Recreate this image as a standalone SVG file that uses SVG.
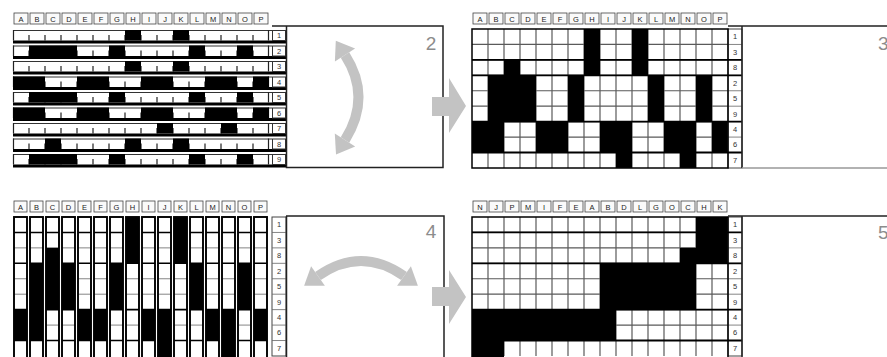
<svg xmlns="http://www.w3.org/2000/svg" xmlns:xlink="http://www.w3.org/1999/xlink" width="887" height="357" viewBox="0 0 887 357">
<style>
.hc{fill:#fafafa;stroke:#444;stroke-width:0.8}
.ht{font-family:"Liberation Sans",Arial,sans-serif;font-size:7.5px;fill:#222;text-anchor:middle}
.lt{font-family:"Liberation Sans",Arial,sans-serif;font-size:7.5px;fill:#333;text-anchor:middle}
.num{font-family:"Liberation Sans",Arial,sans-serif;font-size:19px;fill:#8c8c8c}
.ga{fill:#c3c3c3}
.arc{fill:none;stroke:#c3c3c3;stroke-width:10}
.k{fill:#000}
.ob{fill:none;stroke:#000;stroke-width:1.5}
.box{fill:none;stroke:#222;stroke-width:1.5}
</style>
<defs>
<g id="s1">
<rect x="13" y="0" width="259" height="10.5" fill="#fff"/>
<path d="M13 0.5H272" stroke="#333" stroke-width="1"/>
<path d="M13.5 0V10.5M29 5V10.5M45 5V10.5M61 5V10.5M77 5V10.5M93 5V10.5M109 5V10.5M125 5V10.5M141 5V10.5M157 5V10.5M173 5V10.5M189 5V10.5M205 5V10.5M221 5V10.5M237 5V10.5M253 5V10.5M268.5 0V10.5" stroke="#222" stroke-width="1.2"/>
<rect x="13" y="10.5" width="273" height="3" fill="#000"/>
<rect x="272.5" y="0.5" width="13" height="10" fill="#fff" stroke="#333" stroke-width="1"/>
</g>
<path id="gl" d="M16 0V139M32 0V139M48 0V139M64 0V139M80 0V139M96 0V139M112 0V139M128 0V139M144 0V139M160 0V139M176 0V139M192 0V139M208 0V139M224 0V139M240 0V139M0 15.44H256M0 30.88H256M0 46.32H256M0 61.76H256M0 77.2H256M0 92.64H256M0 108.08H256M0 123.52H256" stroke="#5a5a5a" stroke-width="1.2" fill="none"/>
<g id="lc">
<rect x="0" y="0" width="14" height="139" fill="#fff" stroke="#444" stroke-width="1"/>
<path d="M0 15.44H14M0 30.88H14M0 46.32H14M0 61.76H14M0 77.2H14M0 92.64H14M0 108.08H14M0 123.52H14" stroke="#666" stroke-width="0.8"/>
</g>
<path id="t3" d="M0 30.88H270M0 46.32H270M0 92.64H270M0 123.52H270" stroke="#000" stroke-width="1.8"/>
<path id="t5" d="M0 15.44H270M0 46.32H270M0 92.64H270M0 123.52H270" stroke="#000" stroke-width="1.8"/>
<g id="s4a">
<rect x="0" y="0" width="13" height="142" fill="#fff"/>
<path d="M0 30.88H13M0 61.76H13M0 77.2H13M0 108.08H13" stroke="#777" stroke-width="0.9"/>
</g>
<g id="s4b">
<path d="M0 15.44H13M0 46.32H13M0 92.64H13M0 123.52H13" stroke="#000" stroke-width="1.6"/>
<rect x="0" y="0" width="13" height="145" fill="none" stroke="#000" stroke-width="1.9"/>
</g>
</defs>
<rect width="887" height="357" fill="#fff"/>

<g id="panel1">
<rect class="hc" x="14" y="13" width="14" height="11"/><text class="ht" x="21" y="21.5">A</text>
<rect class="hc" x="30" y="13" width="14" height="11"/><text class="ht" x="37" y="21.5">B</text>
<rect class="hc" x="46" y="13" width="14" height="11"/><text class="ht" x="53" y="21.5">C</text>
<rect class="hc" x="62" y="13" width="14" height="11"/><text class="ht" x="69" y="21.5">D</text>
<rect class="hc" x="78" y="13" width="14" height="11"/><text class="ht" x="85" y="21.5">E</text>
<rect class="hc" x="94" y="13" width="14" height="11"/><text class="ht" x="101" y="21.5">F</text>
<rect class="hc" x="110" y="13" width="14" height="11"/><text class="ht" x="117" y="21.5">G</text>
<rect class="hc" x="126" y="13" width="14" height="11"/><text class="ht" x="133" y="21.5">H</text>
<rect class="hc" x="142" y="13" width="14" height="11"/><text class="ht" x="149" y="21.5">I</text>
<rect class="hc" x="158" y="13" width="14" height="11"/><text class="ht" x="165" y="21.5">J</text>
<rect class="hc" x="174" y="13" width="14" height="11"/><text class="ht" x="181" y="21.5">K</text>
<rect class="hc" x="190" y="13" width="14" height="11"/><text class="ht" x="197" y="21.5">L</text>
<rect class="hc" x="206" y="13" width="14" height="11"/><text class="ht" x="213" y="21.5">M</text>
<rect class="hc" x="222" y="13" width="14" height="11"/><text class="ht" x="229" y="21.5">N</text>
<rect class="hc" x="238" y="13" width="14" height="11"/><text class="ht" x="245" y="21.5">O</text>
<rect class="hc" x="254" y="13" width="14" height="11"/><text class="ht" x="261" y="21.5">P</text>
<g transform="translate(0,30)"><use href="#s1"/><rect class="k" x="125" y="0" width="16" height="10.5"/><rect class="k" x="173" y="0" width="16" height="10.5"/><text class="lt" x="279" y="8.3">1</text></g>
<g transform="translate(0,45.5)"><use href="#s1"/><rect class="k" x="29" y="0" width="48" height="10.5"/><rect class="k" x="109" y="0" width="16" height="10.5"/><rect class="k" x="189" y="0" width="16" height="10.5"/><rect class="k" x="237" y="0" width="16" height="10.5"/><text class="lt" x="279" y="8.3">2</text></g>
<g transform="translate(0,61)"><use href="#s1"/><rect class="k" x="125" y="0" width="16" height="10.5"/><rect class="k" x="173" y="0" width="16" height="10.5"/><text class="lt" x="279" y="8.3">3</text></g>
<g transform="translate(0,76.5)"><use href="#s1"/><rect class="k" x="13" y="0" width="32" height="10.5"/><rect class="k" x="77" y="0" width="32" height="10.5"/><rect class="k" x="141" y="0" width="32" height="10.5"/><rect class="k" x="205" y="0" width="32" height="10.5"/><rect class="k" x="253" y="0" width="16" height="10.5"/><text class="lt" x="279" y="8.3">4</text></g>
<g transform="translate(0,92)"><use href="#s1"/><rect class="k" x="29" y="0" width="48" height="10.5"/><rect class="k" x="109" y="0" width="16" height="10.5"/><rect class="k" x="189" y="0" width="16" height="10.5"/><rect class="k" x="237" y="0" width="16" height="10.5"/><text class="lt" x="279" y="8.3">5</text></g>
<g transform="translate(0,107.5)"><use href="#s1"/><rect class="k" x="13" y="0" width="32" height="10.5"/><rect class="k" x="77" y="0" width="32" height="10.5"/><rect class="k" x="141" y="0" width="32" height="10.5"/><rect class="k" x="205" y="0" width="32" height="10.5"/><rect class="k" x="253" y="0" width="16" height="10.5"/><text class="lt" x="279" y="8.3">6</text></g>
<g transform="translate(0,123)"><use href="#s1"/><rect class="k" x="157" y="0" width="16" height="10.5"/><rect class="k" x="221" y="0" width="16" height="10.5"/><text class="lt" x="279" y="8.3">7</text></g>
<g transform="translate(0,138.5)"><use href="#s1"/><rect class="k" x="45" y="0" width="16" height="10.5"/><rect class="k" x="125" y="0" width="16" height="10.5"/><rect class="k" x="173" y="0" width="16" height="10.5"/><text class="lt" x="279" y="8.3">8</text></g>
<g transform="translate(0,154)"><use href="#s1"/><rect class="k" x="29" y="0" width="48" height="10.5"/><rect class="k" x="109" y="0" width="16" height="10.5"/><rect class="k" x="189" y="0" width="16" height="10.5"/><rect class="k" x="237" y="0" width="16" height="10.5"/><text class="lt" x="279" y="8.3">9</text></g>
</g>

<g id="panel2">
<path class="box" d="M272 26H443V167.5H286.5V26"/>
<text class="num" x="431" y="50" text-anchor="middle">2</text>
<path class="arc" d="M345 55Q372 97 345 140"/>
<polygon class="ga" points="335.8,40.7 355.1,48.5 334.9,61.5"/>
<polygon class="ga" points="336,154.4 355.2,146.4 334.8,133.6"/>
</g>

<g id="panel3">
<rect class="hc" x="473" y="13" width="14" height="11"/><text class="ht" x="480" y="21.5">A</text>
<rect class="hc" x="489" y="13" width="14" height="11"/><text class="ht" x="496" y="21.5">B</text>
<rect class="hc" x="505" y="13" width="14" height="11"/><text class="ht" x="512" y="21.5">C</text>
<rect class="hc" x="521" y="13" width="14" height="11"/><text class="ht" x="528" y="21.5">D</text>
<rect class="hc" x="537" y="13" width="14" height="11"/><text class="ht" x="544" y="21.5">E</text>
<rect class="hc" x="553" y="13" width="14" height="11"/><text class="ht" x="560" y="21.5">F</text>
<rect class="hc" x="569" y="13" width="14" height="11"/><text class="ht" x="576" y="21.5">G</text>
<rect class="hc" x="585" y="13" width="14" height="11"/><text class="ht" x="592" y="21.5">H</text>
<rect class="hc" x="601" y="13" width="14" height="11"/><text class="ht" x="608" y="21.5">I</text>
<rect class="hc" x="617" y="13" width="14" height="11"/><text class="ht" x="624" y="21.5">J</text>
<rect class="hc" x="633" y="13" width="14" height="11"/><text class="ht" x="640" y="21.5">K</text>
<rect class="hc" x="649" y="13" width="14" height="11"/><text class="ht" x="656" y="21.5">L</text>
<rect class="hc" x="665" y="13" width="14" height="11"/><text class="ht" x="672" y="21.5">M</text>
<rect class="hc" x="681" y="13" width="14" height="11"/><text class="ht" x="688" y="21.5">N</text>
<rect class="hc" x="697" y="13" width="14" height="11"/><text class="ht" x="704" y="21.5">O</text>
<rect class="hc" x="713" y="13" width="14" height="11"/><text class="ht" x="720" y="21.5">P</text>
<rect x="472" y="29" width="256" height="139" fill="#fff"/>
<use href="#gl" x="472" y="29"/>
<rect class="k" x="584" y="29" width="16" height="46.32"/>
<rect class="k" x="632" y="29" width="16" height="46.32"/>
<rect class="k" x="504" y="59.88" width="16" height="61.76"/>
<rect class="k" x="488" y="75.32" width="48" height="46.32"/>
<rect class="k" x="568" y="75.32" width="16" height="46.32"/>
<rect class="k" x="648" y="75.32" width="16" height="46.32"/>
<rect class="k" x="696" y="75.32" width="16" height="46.32"/>
<rect class="k" x="472" y="121.64" width="32" height="30.88"/>
<rect class="k" x="536" y="121.64" width="32" height="30.88"/>
<rect class="k" x="600" y="121.64" width="32" height="30.88"/>
<rect class="k" x="664" y="121.64" width="32" height="30.88"/>
<rect class="k" x="712" y="121.64" width="16" height="30.88"/>
<rect class="k" x="616" y="152.52" width="16" height="15.44"/>
<rect class="k" x="680" y="152.52" width="16" height="15.44"/>
<use href="#lc" x="728" y="29"/>
<use href="#t3" x="472" y="29"/>
<rect class="ob" x="472" y="29" width="256" height="139"/>
<text class="lt" x="735" y="39.3">1</text>
<text class="lt" x="735" y="54.8">3</text>
<text class="lt" x="735" y="70.2">8</text>
<text class="lt" x="735" y="85.6">2</text>
<text class="lt" x="735" y="101.1">5</text>
<text class="lt" x="735" y="116.5">9</text>
<text class="lt" x="735" y="132">4</text>
<text class="lt" x="735" y="147.4">6</text>
<text class="lt" x="735" y="162.8">7</text>
<path class="box" d="M728 26H887M742 26V168"/>
<path d="M742 168H887" stroke="#999" stroke-width="1.5"/>
<text class="num" x="878" y="50">3</text>
</g>

<g id="panel4">
<rect class="hc" x="14" y="201" width="13" height="11"/><text class="ht" x="20.5" y="209.5">A</text>
<rect class="hc" x="30" y="201" width="13" height="11"/><text class="ht" x="36.5" y="209.5">B</text>
<rect class="hc" x="46" y="201" width="13" height="11"/><text class="ht" x="52.5" y="209.5">C</text>
<rect class="hc" x="62" y="201" width="13" height="11"/><text class="ht" x="68.5" y="209.5">D</text>
<rect class="hc" x="78" y="201" width="13" height="11"/><text class="ht" x="84.5" y="209.5">E</text>
<rect class="hc" x="94" y="201" width="13" height="11"/><text class="ht" x="100.5" y="209.5">F</text>
<rect class="hc" x="110" y="201" width="13" height="11"/><text class="ht" x="116.5" y="209.5">G</text>
<rect class="hc" x="126" y="201" width="13" height="11"/><text class="ht" x="132.5" y="209.5">H</text>
<rect class="hc" x="142" y="201" width="13" height="11"/><text class="ht" x="148.5" y="209.5">I</text>
<rect class="hc" x="158" y="201" width="13" height="11"/><text class="ht" x="164.5" y="209.5">J</text>
<rect class="hc" x="174" y="201" width="13" height="11"/><text class="ht" x="180.5" y="209.5">K</text>
<rect class="hc" x="190" y="201" width="13" height="11"/><text class="ht" x="196.5" y="209.5">L</text>
<rect class="hc" x="206" y="201" width="13" height="11"/><text class="ht" x="212.5" y="209.5">M</text>
<rect class="hc" x="222" y="201" width="13" height="11"/><text class="ht" x="228.5" y="209.5">N</text>
<rect class="hc" x="238" y="201" width="13" height="11"/><text class="ht" x="244.5" y="209.5">O</text>
<rect class="hc" x="254" y="201" width="13" height="11"/><text class="ht" x="260.5" y="209.5">P</text>
<use href="#s4a" x="14" y="217"/><rect class="k" x="14" y="309.64" width="13" height="30.88"/><use href="#s4b" x="14" y="217"/>
<use href="#s4a" x="30" y="217"/><rect class="k" x="30" y="263.32" width="13" height="77.2"/><use href="#s4b" x="30" y="217"/>
<use href="#s4a" x="46" y="217"/><rect class="k" x="46" y="247.88" width="13" height="61.76"/><use href="#s4b" x="46" y="217"/>
<use href="#s4a" x="62" y="217"/><rect class="k" x="62" y="263.32" width="13" height="46.32"/><use href="#s4b" x="62" y="217"/>
<use href="#s4a" x="78" y="217"/><rect class="k" x="78" y="309.64" width="13" height="30.88"/><use href="#s4b" x="78" y="217"/>
<use href="#s4a" x="94" y="217"/><rect class="k" x="94" y="309.64" width="13" height="30.88"/><use href="#s4b" x="94" y="217"/>
<use href="#s4a" x="110" y="217"/><rect class="k" x="110" y="263.32" width="13" height="46.32"/><use href="#s4b" x="110" y="217"/>
<use href="#s4a" x="126" y="217"/><rect class="k" x="126" y="217" width="13" height="46.32"/><use href="#s4b" x="126" y="217"/>
<use href="#s4a" x="142" y="217"/><rect class="k" x="142" y="309.64" width="13" height="30.88"/><use href="#s4b" x="142" y="217"/>
<use href="#s4a" x="158" y="217"/><rect class="k" x="158" y="309.64" width="13" height="48"/><use href="#s4b" x="158" y="217"/>
<use href="#s4a" x="174" y="217"/><rect class="k" x="174" y="217" width="13" height="46.32"/><use href="#s4b" x="174" y="217"/>
<use href="#s4a" x="190" y="217"/><rect class="k" x="190" y="263.32" width="13" height="46.32"/><use href="#s4b" x="190" y="217"/>
<use href="#s4a" x="206" y="217"/><rect class="k" x="206" y="309.64" width="13" height="30.88"/><use href="#s4b" x="206" y="217"/>
<use href="#s4a" x="222" y="217"/><rect class="k" x="222" y="309.64" width="13" height="48"/><use href="#s4b" x="222" y="217"/>
<use href="#s4a" x="238" y="217"/><rect class="k" x="238" y="263.32" width="13" height="46.32"/><use href="#s4b" x="238" y="217"/>
<use href="#s4a" x="254" y="217"/><rect class="k" x="254" y="309.64" width="13" height="30.88"/><use href="#s4b" x="254" y="217"/>
<use href="#lc" x="272" y="217"/>
<text class="lt" x="279" y="227.3">1</text>
<text class="lt" x="279" y="242.8">3</text>
<text class="lt" x="279" y="258.2">8</text>
<text class="lt" x="279" y="273.6">2</text>
<text class="lt" x="279" y="289.1">5</text>
<text class="lt" x="279" y="304.5">9</text>
<text class="lt" x="279" y="320">4</text>
<text class="lt" x="279" y="335.4">6</text>
<text class="lt" x="279" y="350.8">7</text>
<path class="box" d="M286 216H444V360M286.5 216V360"/>
<text class="num" x="431" y="238" text-anchor="middle">4</text>
<path class="arc" d="M318 276Q361 246 404 276"/>
<polygon class="ga" points="304.1,285.7 324.9,285.8 311.1,266.2"/>
<polygon class="ga" points="417.9,285.7 397.1,285.8 410.9,266.2"/>
</g>

<g id="panel5">
<rect class="hc" x="473" y="201" width="14" height="11"/><text class="ht" x="480" y="209.5">N</text>
<rect class="hc" x="489" y="201" width="14" height="11"/><text class="ht" x="496" y="209.5">J</text>
<rect class="hc" x="505" y="201" width="14" height="11"/><text class="ht" x="512" y="209.5">P</text>
<rect class="hc" x="521" y="201" width="14" height="11"/><text class="ht" x="528" y="209.5">M</text>
<rect class="hc" x="537" y="201" width="14" height="11"/><text class="ht" x="544" y="209.5">I</text>
<rect class="hc" x="553" y="201" width="14" height="11"/><text class="ht" x="560" y="209.5">F</text>
<rect class="hc" x="569" y="201" width="14" height="11"/><text class="ht" x="576" y="209.5">E</text>
<rect class="hc" x="585" y="201" width="14" height="11"/><text class="ht" x="592" y="209.5">A</text>
<rect class="hc" x="601" y="201" width="14" height="11"/><text class="ht" x="608" y="209.5">B</text>
<rect class="hc" x="617" y="201" width="14" height="11"/><text class="ht" x="624" y="209.5">D</text>
<rect class="hc" x="633" y="201" width="14" height="11"/><text class="ht" x="640" y="209.5">L</text>
<rect class="hc" x="649" y="201" width="14" height="11"/><text class="ht" x="656" y="209.5">G</text>
<rect class="hc" x="665" y="201" width="14" height="11"/><text class="ht" x="672" y="209.5">O</text>
<rect class="hc" x="681" y="201" width="14" height="11"/><text class="ht" x="688" y="209.5">C</text>
<rect class="hc" x="697" y="201" width="14" height="11"/><text class="ht" x="704" y="209.5">H</text>
<rect class="hc" x="713" y="201" width="14" height="11"/><text class="ht" x="720" y="209.5">K</text>
<rect x="472" y="217" width="256" height="141" fill="#fff"/>
<use href="#gl" x="472" y="217"/>
<rect class="k" x="696" y="217" width="32" height="46.32"/>
<rect class="k" x="680" y="247.88" width="16" height="61.76"/>
<rect class="k" x="600" y="263.32" width="96" height="46.32"/>
<rect class="k" x="472" y="309.64" width="144" height="30.88"/>
<rect class="k" x="472" y="340.52" width="32" height="17"/>
<use href="#lc" x="728" y="217"/>
<use href="#t5" x="472" y="217"/>
<rect class="ob" x="472" y="217" width="256" height="142"/>
<text class="lt" x="735" y="227.3">1</text>
<text class="lt" x="735" y="242.8">3</text>
<text class="lt" x="735" y="258.2">8</text>
<text class="lt" x="735" y="273.6">2</text>
<text class="lt" x="735" y="289.1">5</text>
<text class="lt" x="735" y="304.5">9</text>
<text class="lt" x="735" y="320">4</text>
<text class="lt" x="735" y="335.4">6</text>
<text class="lt" x="735" y="350.8">7</text>
<path class="box" d="M728 216H887M742 216V360"/>
<text class="num" x="878" y="239">5</text>
</g>

<g id="connectors">
<path class="ga" d="M432 97H449V78L466 106L449 133V116H432Z"/>
<path class="ga" d="M432 287H449V270L466 297L449 324V306H432Z"/>
</g>
</svg>
